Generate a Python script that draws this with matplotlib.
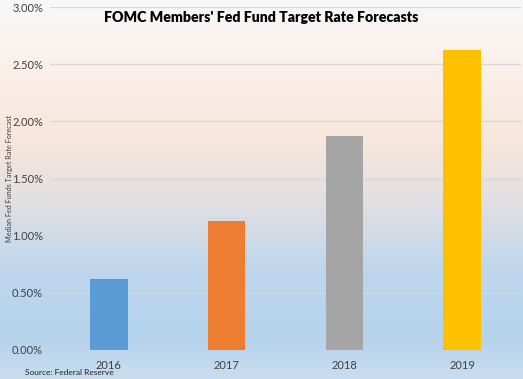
import numpy as np
import matplotlib.pyplot as plt
from matplotlib.colors import LinearSegmentedColormap

years = ['2016', '2017', '2018', '2019']
rates = [0.625, 1.125, 1.875, 2.625]
bar_colors = ['#5b9bd5', '#ed7d31', '#a5a5a5', '#ffc000']
yticks = [0, 0.5, 1.0, 1.5, 2.0, 2.5, 3.0]

plt.rcParams['font.family'] = ['Lato', 'DejaVu Sans']

fig = plt.figure(figsize=(5.23, 3.79), dpi=100)

# фон с градиентом
bg = fig.add_axes([0, 0, 1, 1], zorder=-10)
cmap = LinearSegmentedColormap.from_list('bg', [
    (0.0, '#f7f8fa'), (0.12, '#fbf3ee'), (0.38, '#f7e6db'),
    (0.52, '#e3e0e2'), (0.72, '#bdd6ec'), (0.9, '#b6d3ec'), (1.0, '#c9ddf0')])
grad = np.linspace(0, 1, 256).reshape(-1, 1)
bg.imshow(grad, aspect='auto', cmap=cmap, extent=[0, 1, 0, 1])
bg.set_axis_off()

ax = fig.add_axes([50 / 523, 29 / 379, 471 / 523, 343 / 379])
ax.patch.set_alpha(0)
x = np.arange(len(years))
ax.bar(x, rates, width=0.32, color=bar_colors, zorder=3)
ax.set_xlim(-0.5, 3.5)
ax.set_ylim(0, 3.0)
ax.set_yticks(yticks)
ax.set_yticklabels(['%.2f%%' % v for v in yticks], fontsize=8, color='#404040')
ax.set_xticks(x)
ax.set_xticklabels(years, fontsize=8, color='#404040')
ax.tick_params(length=0, pad=5)
ax.tick_params(axis='x', pad=7)
ax.grid(axis='y', color='#d9d9d9', linewidth=1, zorder=0)
for s in ax.spines.values():
    s.set_visible(False)

ax.set_ylabel('Median Fed Funds Target Rate Forecast', fontsize=5.2, color='#404040')
ax.yaxis.set_label_coords(-0.078, 0.5)

fig.text(0.5, 0.953, "FOMC Members' Fed Fund Target Rate Forecasts",
         ha='center', va='center', fontsize=10.2, fontweight='heavy', color='black')
fig.text(0.047, 0.01, 'Source: Federal Reserve', fontsize=6, color='#222222')

fig.savefig('out.png', dpi=100)
